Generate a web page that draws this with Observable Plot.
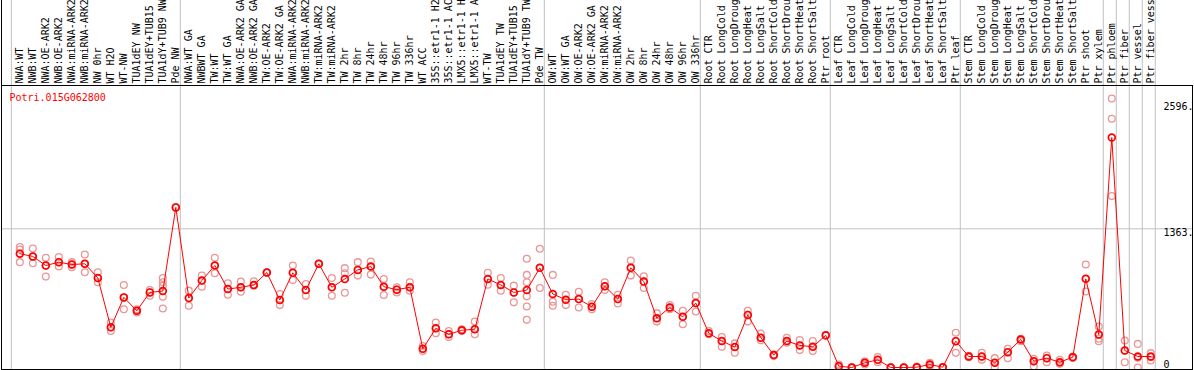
<!DOCTYPE html>
<html><head><meta charset="utf-8">
<script src="https://cdn.jsdelivr.net/npm/d3@7"></script>
<script src="https://cdn.jsdelivr.net/npm/@observablehq/plot@0.6"></script>
<style>body{margin:0;background:#fff}</style>
</head><body><div id="chart"></div>
<script>
const gene = "Potri.015G062800";
const categories = [
  "NWA:WT","NWB:WT","NWA:OE-ARK2","NWB:OE-ARK2","NWA:miRNA-ARK2","NWB:miRNA-ARK2","NW 0hr","WT H2O","WT-NW","TUA1dEY NW","TUA1dEY+TUB15 NW","TUA1dY+TUB9 NW","Pde NW",
  "NWA:WT GA","NWBWT GA","TW:WT","TW:WT GA","NWA:OE-ARK2 GA","NWB:OE-ARK2 GA","TW:OE-ARK2","TW:OE-ARK2 GA","NWA:miRNA-ARK2 GA","NWB:miRNA-ARK2 GA","TW:miRNA-ARK2","TW:miRNA-ARK2 GA","TW 2hr","TW 8hr","TW 24hr","TW 48hr","TW 96hr","TW 336hr","WT ACC","35S::etr1-1 H2O","35S::etr1-1 ACC","LMX5::etr1-1 H2O","LMX5::etr1-1 ACC","WT-TW","TUA1dEY TW","TUA1dEY+TUB15 TW","TUA1dY+TUB9 TW","Pde TW",
  "OW:WT","OW:WT GA","OW:OE-ARK2","OW:OE-ARK2 GA","OW:miRNA-ARK2","OW:miRNA-ARK2 GA","OW 2hr","OW 8hr","OW 24hr","OW 48hr","OW 96hr","OW 336hr",
  "Root CTR","Root LongCold","Root LongDrought","Root LongHeat","Root LongSalt","Root ShortCold","Root ShortDrought","Root ShortHeat","Root ShortSalt","Ptr root",
  "Leaf CTR","Leaf LongCold","Leaf LongDrought","Leaf LongHeat","Leaf LongSalt","Leaf ShortCold","Leaf ShortDrought","Leaf ShortHeat","Leaf ShortSalt","Ptr leaf",
  "Stem CTR","Stem LongCold","Stem LongDrought","Stem LongHeat","Stem LongSalt","Stem ShortCold","Stem ShortDrought","Stem ShortHeat","Stem ShortSalt","Ptr shoot","Ptr xylem",
  "Ptr phloem","Ptr fiber","Ptr vessel","Ptr fiber vessel"
];
const groupSizes = [13, 28, 12, 10, 10, 11, 1, 1, 1, 1];
const means = [
  1118,1091,1002,1035,1012,1019,880,395,689,557,738,751,1573,
  682,854,1002,771,788,811,933,663,930,761,1019,788,870,959,992,794,765,788,184,385,326,366,376,870,811,738,761,979,
  722,666,672,597,798,672,979,844,484,590,498,633,
  336,260,201,517,293,122,260,217,204,316,
  13,0,46,75,0,0,3,29,3,259,
  108,108,46,151,275,62,92,52,101,871,324,
  2260,167,108,108
];
const replicates = [
  [1184,1160,1035],[1170,1091,1025],[1078,1002,893],[1085,1035,992],[1035,1012,986],[1111,1019,936],[936,880,837],[441,395,359],[811,689,573],[573,557,540],[761,738,705],[880,837,804,695,580],[1573,1573,1573],
  [755,682,606],[903,854,794],[1078,1002,926],[827,771,715],[844,788,745],[847,811,804],[933,933,933],[722,663,613],[1002,930,860],[821,761,705],[1019,1019,1019],[880,788,705],[976,926,735],[1035,959,903],[1042,992,913],[870,794,712],[788,765,738],[837,788,755],[211,184,161],[441,385,336],[359,326,300],[376,366,359],[451,376,326],[930,870,814],[880,811,755],[804,738,640],[1068,910,837,699,600,468],[1167,979,781],
  [910,646,606],[715,666,613],[745,672,590],[623,597,573],[837,798,761],[715,672,629],[1052,979,903],[897,844,781],[534,484,451],[613,590,573],[557,498,425],[705,633,550],
  [359,336,326],[300,260,204],[237,201,145],[557,517,451],[333,293,267],[128,122,112],[293,260,244],[270,217,171],[260,204,161],[316,316,316],
  [29,13,3],[5,0,0],[62,46,29],[102,75,52],[3,0,0],[3,0,0],[10,3,0],[46,29,13],[5,3,0],[341,259,144],
  [115,108,101],[144,108,75],[92,46,3],[183,151,92],[282,275,259],[85,62,10],[118,92,52],[75,52,36],[108,101,95],[1012,871,747],[403,324,282,259],
  [2643,2444,1684],[265,167,52],[232,95,0],[141,101,69]
];
const tickValues = [0, 1363, 2596];
const tickLabels = ["0", "1363.", "2596."];
const gridValues = [1363];

const meanData = categories.map((c, i) => ({i, c, v: means[i]}));
const repData = replicates.flatMap((r, i) => r.map(v => ({i, v})));
const bounds = [0];
groupSizes.forEach(s => bounds.push(bounds[bounds.length - 1] + s));
const tickData = tickValues.map((v, k) => ({v, label: tickLabels[k]}));
const xDomain = [-1.41, 90.21];
const marginTop = 85;

const chart = Plot.plot({
  width: 1194,
  height: 370,
  marginTop,
  marginBottom: 1,
  marginLeft: 1,
  marginRight: 2,
  x: {type: "linear", domain: xDomain, axis: null},
  y: {domain: [-19.7, 2771], axis: null},
  style: {fontFamily: "'DejaVu Sans Mono', monospace", fontSize: "10px", background: "#fff", color: "#000"},
  marks: [
    Plot.ruleY(gridValues, {stroke: "#c0c0c0", strokeWidth: 1}),
    Plot.ruleX(bounds, {x: b => b - 0.5, dx: -2, stroke: "#c0c0c0", strokeWidth: 1, insetTop: -marginTop}),
    Plot.ruleX([xDomain[0]], {stroke: "#000", strokeWidth: 1, insetTop: -marginTop}),
    Plot.axisX({anchor: "top", ticks: categories.map((c, i) => i), tickFormat: i => categories[i], tickRotate: -90, tickSize: 0, tickPadding: 2, label: null, fill: "#000"}),
    Plot.dot(repData, {x: "i", y: "v", r: 3.4, stroke: "#eb9696", strokeWidth: 1.3}),
    Plot.line(meanData, {x: "i", y: "v", stroke: "#ff0000", strokeWidth: 1}),
    Plot.dot(meanData, {x: "i", y: "v", r: 3.4, stroke: "#ff0000", strokeWidth: 1.7}),
    Plot.text([gene], {frameAnchor: "top-left", dx: 8, dy: 12, textAnchor: "start", lineAnchor: "middle", fill: "#ff0000"}),
    Plot.text(tickData.filter(d => d.v > 0), {y: "v", text: "label", frameAnchor: "right", dx: -29, textAnchor: "start", lineAnchor: "top", fill: "#000"}),
    Plot.text(tickData.filter(d => d.v === 0), {y: "v", text: "label", frameAnchor: "right", dx: -29, dy: 1, textAnchor: "start", lineAnchor: "bottom", fill: "#000"}),
    Plot.frame({stroke: "#000", strokeWidth: 1})
  ]
});
document.getElementById("chart").appendChild(chart);
</script>
</body></html>
